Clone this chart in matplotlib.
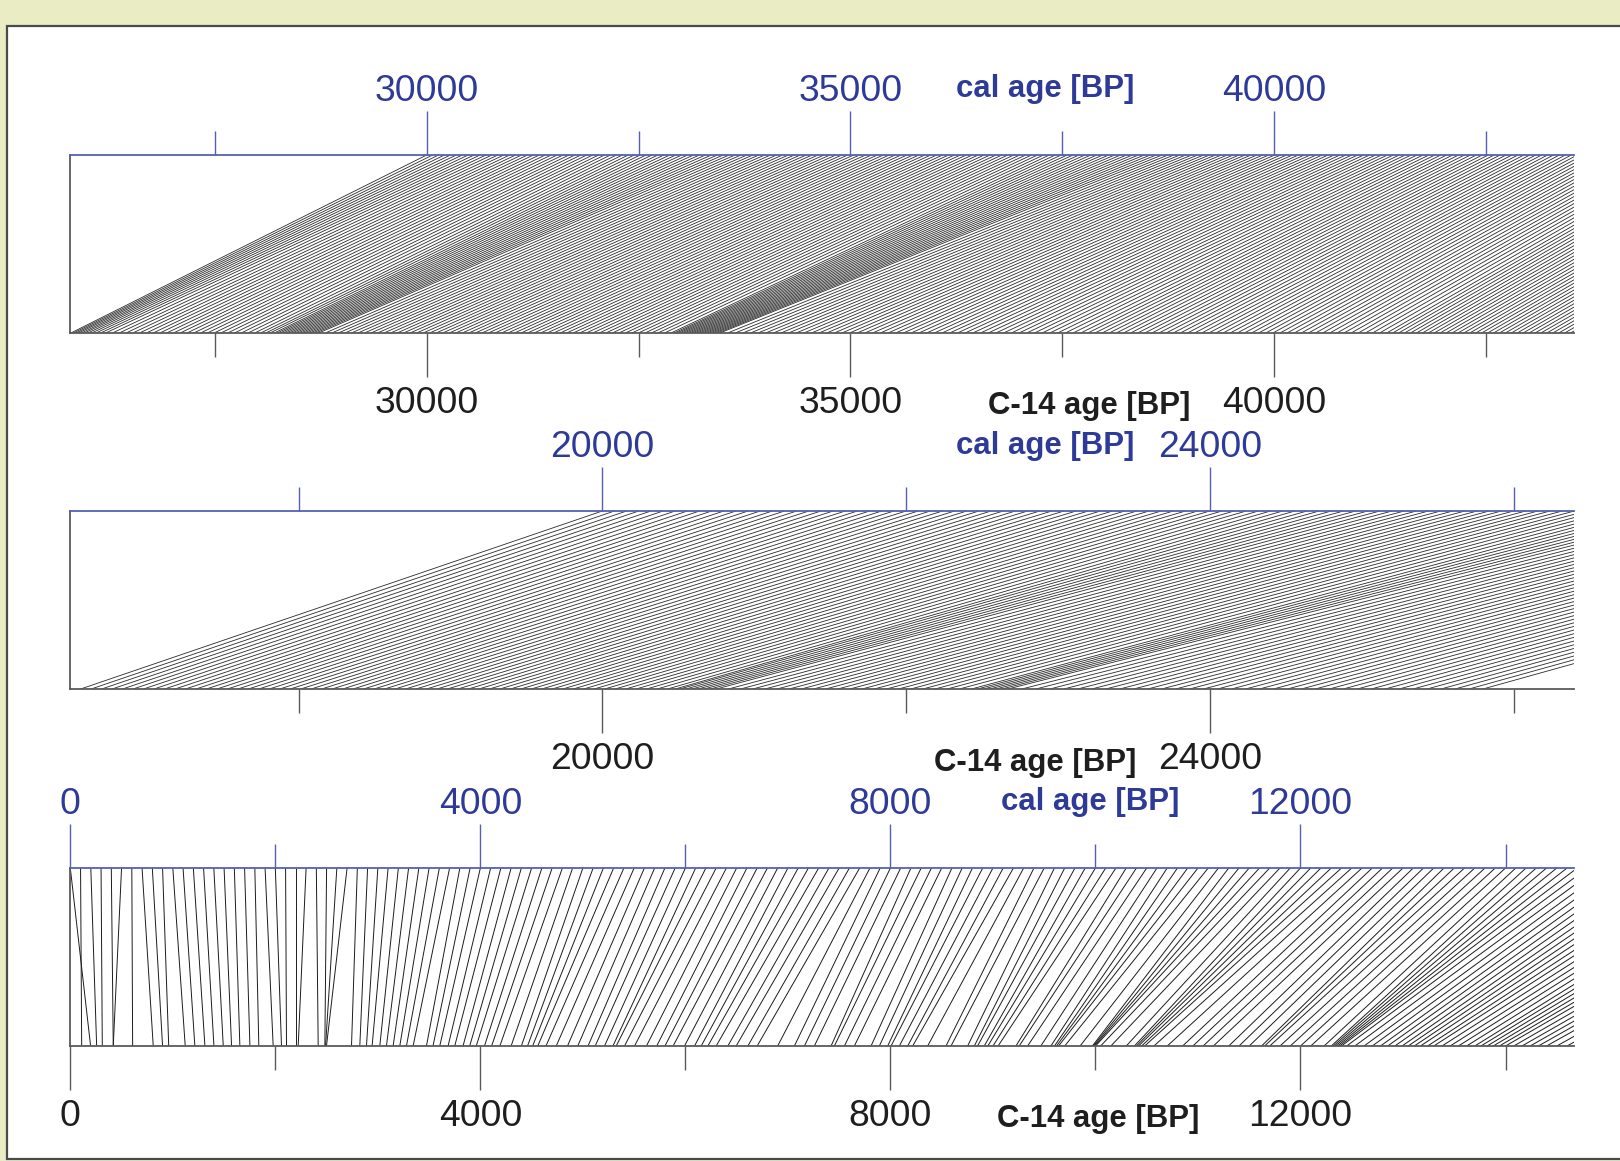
import numpy as np
import matplotlib
matplotlib.use("Agg")
import matplotlib.pyplot as plt
from matplotlib.collections import LineCollection
from matplotlib.patches import Rectangle

# ---------------- data ----------------
# Panel 3 (0 - 14.7 ka): C-14 age for every 100 cal years starting at 0 cal BP
P3_CAL_START, P3_CAL_STEP = 0, 100
P3_C14 = [198, 111, 257, 312, 419, 419, 608, 809, 900, 960,
          1121, 1215, 1313, 1401, 1492, 1573, 1654, 1752, 1839, 1979,
          2060, 2109, 2200, 2223, 2418, 2483, 2490, 2499, 2743, 2824,
          2889, 2944, 3019, 3084, 3149, 3214, 3279, 3344, 3474, 3538,
          3604, 3685, 3750, 3831, 3896, 3960, 4040, 4110, 4190, 4300,
          4400, 4460, 4510, 4560, 4640, 4740, 4850, 4950, 5050, 5120,
          5211, 5293, 5325, 5406, 5504, 5620, 5720, 5800, 5880, 5991,
          6089, 6154, 6219, 6300, 6414, 6495, 6609, 6700, 6900, 7063,
          7161, 7258, 7421, 7453, 7551, 7648, 7811, 7892, 7973, 8006,
          8087, 8168, 8217, 8363, 8542, 8591, 8753, 8818, 8850, 8915,
          8950, 9000, 9050, 9224, 9256, 9338, 9467, 9565, 9600, 9620,
          9640, 9700, 9850, 9970, 9980, 9990, 10000, 10050, 10150, 10300,
          10380, 10400, 10420, 10450, 10480, 10570, 10700, 10850, 10950, 11050,
          11150, 11300, 11400, 11500, 11620, 11650, 11700, 11800, 11900, 12000,
          12100, 12230, 12300, 12320, 12340, 12360, 12380, 12400, 12450, 12530,
          12620, 12700, 12780, 12850, 12920, 12990, 13050, 13110, 13170, 13240,
          13300, 13380, 13460, 13540, 13620, 13700, 13760, 13820, 13880, 13940,
          14000, 14080, 14160, 14240, 14320, 14400, 14500, 14600, 14700]

# Panel 2 (16.5 - 26.4 ka): C-14 age for every 80 cal years, 20000 - 30000 cal BP
P2_CAL_START, P2_CAL_STEP = 20000, 80
P2_C14 = [16565, 16634, 16703, 16772, 16841, 16910, 16979, 17048, 17117, 17186,
          17255, 17324, 17393, 17462, 17531, 17600, 17669, 17738, 17807, 17876,
          17945, 18014, 18083, 18152, 18221, 18290, 18359, 18428, 18497, 18566,
          18635, 18704, 18773, 18842, 18911, 18980, 19049, 19118, 19187, 19256,
          19325, 19394, 19463, 19532, 19601, 19670, 19739, 19808, 19877, 19946,
          20015, 20084, 20153, 20222, 20291, 20360, 20429, 20480, 20510, 20550,
          20590, 20630, 20670, 20710, 20750, 20830, 20910, 20990, 21070, 21150,
          21230, 21310, 21390, 21470, 21550, 21630, 21710, 21790, 21870, 21950,
          22030, 22110, 22190, 22270, 22350, 22430, 22470, 22510, 22550, 22590,
          22630, 22670, 22762, 22854, 22946, 23038, 23130, 23222, 23314, 23406,
          23498, 23590, 23682, 23774, 23866, 23958, 24050, 24142, 24234, 24326,
          24418, 24510, 24602, 24694, 24786, 24878, 24970, 25062, 25154, 25246,
          25338, 25430, 25522, 25614, 25706, 25798]

# Panel 1 (25.8 - 43.5 ka): C-14 age for every 70 cal years starting at 30000 cal BP
P1_CAL_START, P1_CAL_STEP = 30000, 70
P1_C14 = [25800, 25830, 25860, 25890, 25925, 25960, 26000, 26045, 26095, 26150,
          26210, 26290, 26370, 26450, 26530, 26610, 26690, 26770, 26850, 26930,
          27010, 27090, 27170, 27250, 27330, 27410, 27490, 27570, 27650, 27730,
          27810, 27890, 27970, 28040, 28100, 28150, 28200, 28235, 28270, 28305,
          28340, 28375, 28410, 28445, 28480, 28515, 28550, 28585, 28620, 28655,
          28690, 28725, 28802, 28879, 28956, 29033, 29110, 29187, 29264, 29341,
          29418, 29495, 29572, 29649, 29726, 29803, 29880, 29957, 30034, 30111,
          30188, 30265, 30342, 30419, 30496, 30573, 30650, 30727, 30804, 30881,
          30958, 31035, 31112, 31189, 31266, 31343, 31420, 31497, 31574, 31651,
          31728, 31805, 31882, 31959, 32036, 32113, 32190, 32267, 32344, 32421,
          32498, 32575, 32652, 32729, 32806, 32883, 32920, 32950, 32980, 33010,
          33040, 33070, 33100, 33130, 33160, 33190, 33220, 33250, 33280, 33310,
          33340, 33370, 33400, 33430, 33460, 33550, 33640, 33730, 33820, 33910,
          34000, 34090, 34180, 34270, 34360, 34450, 34540, 34630, 34720, 34810,
          34900, 34990, 35080, 35171, 35262, 35353, 35444, 35535, 35626, 35717,
          35808, 35899, 35990, 36081, 36172, 36263, 36354, 36445, 36536, 36627,
          36718, 36809, 36900, 36991, 37082, 37173, 37264, 37355, 37446, 37537,
          37628, 37719, 37803, 37887, 37971, 38055, 38139, 38223, 38307, 38391,
          38475, 38559, 38643, 38727, 38811, 38895, 38979, 39063, 39147, 39231,
          39315, 39399, 39483, 39567, 39651, 39735, 39819, 39903, 39987, 40071,
          40155, 40239, 40323, 40407, 40491, 40575, 40659, 40743, 40827, 40911,
          40995, 41079, 41163, 41247, 41331, 41401, 41471, 41541, 41611, 41681,
          41751, 41821, 41891, 41961, 42031, 42101, 42171, 42241, 42311, 42381,
          42451, 42521, 42591, 42661, 42731, 42801, 42871, 42941, 43011, 43081,
          43151, 43221, 43291, 43361, 43431, 43501, 43571, 43641]

P1_RANGE = (25793, 43537)
P2_RANGE = (16497, 26395)
P3_RANGE = (0, 14664)
P1_MAJOR, P1_MINOR = [30000, 35000, 40000], [27500, 32500, 37500, 42500]
P2_MAJOR, P2_MINOR = [20000, 24000], [18000, 22000, 26000]
P3_MAJOR, P3_MINOR = [0, 4000, 8000, 12000], [2000, 6000, 10000, 14000]
CAL_LABEL = "cal age [BP]"
C14_LABEL = "C-14 age [BP]"

# ---------------- style ----------------
W, H = 1620, 1161
BG = "#EAECC3"
BLUE_LINE = "#5560B4"
BLUE_TEXT = "#2E3A98"
GREY = "#5A5A5A"
FONT = "Liberation Sans"

fig = plt.figure(figsize=(W / 100, H / 100), dpi=100)
fig.patch.set_facecolor(BG)
fig.patches.append(Rectangle((7 / W, 2 / H), 1.2, (1135 - 2) / H,
                             transform=fig.transFigure, facecolor="white",
                             edgecolor="#4a4a4a", lw=1.6, zorder=-10))


def px_rect(top, bottom, left=70.3, right=1573.6):
    return [left / W, 1 - bottom / H, (right - left) / W, (bottom - top) / H]


def panel(top_px, bottom_px, xr, cal_start, cal_step, c14, major, minor,
          cal_lab_xy, c14_lab_xy, lw, lc):
    ax = fig.add_axes(px_rect(top_px, bottom_px))
    ax.set_zorder(5)
    ax.set_facecolor("none")
    ax.set_xlim(*xr)
    ax.set_ylim(0, 1)
    cal = cal_start + cal_step * np.arange(len(c14))
    segs = [[(c, 1.0), (b, 0.0)] for c, b in zip(cal, c14)]
    ax.add_collection(LineCollection(segs, colors=lc, linewidths=lw))
    ax.set_yticks([])
    ax.spines["right"].set_visible(False)
    ax.spines["left"].set_color(GREY)
    ax.spines["left"].set_linewidth(1.3)
    ax.spines["bottom"].set_color(GREY)
    ax.spines["bottom"].set_linewidth(1.3)
    ax.spines["top"].set_color(BLUE_LINE)
    ax.spines["top"].set_linewidth(1.3)
    # bottom axis (C-14)
    ax.set_xticks(major)
    ax.set_xticks(minor, minor=True)
    ax.set_xticklabels([str(v) for v in major], fontfamily=FONT)
    ax.tick_params(axis="x", which="major", direction="out", length=31.5,
                   width=1.0, color=GREY, labelsize=26.8, labelcolor="#1e1e1e",
                   pad=7)
    ax.tick_params(axis="x", which="minor", direction="out", length=17,
                   width=1.0, color=GREY)
    # top axis (cal)
    sec = ax.secondary_xaxis("top")
    sec.set_xticks(major)
    sec.set_xticks(minor, minor=True)
    sec.set_xticklabels([str(v) for v in major], fontfamily=FONT)
    sec.tick_params(axis="x", which="major", direction="out", length=31.5,
                    width=1.0, color=BLUE_LINE, labelsize=26.8,
                    labelcolor=BLUE_TEXT, pad=1.5)
    sec.tick_params(axis="x", which="minor", direction="out", length=17,
                    width=1.0, color=BLUE_LINE)
    sec.spines["top"].set_visible(False)
    fig.text(cal_lab_xy[0] / W, 1 - cal_lab_xy[1] / H, CAL_LABEL,
             color=BLUE_TEXT, fontsize=22.4, fontweight="bold", fontfamily=FONT,
             ha="center", va="center")
    fig.text(c14_lab_xy[0] / W, 1 - c14_lab_xy[1] / H, C14_LABEL,
             color="#1e1e1e", fontsize=22.4, fontweight="bold", fontfamily=FONT,
             ha="center", va="center")
    return ax


panel(155, 333, P1_RANGE, P1_CAL_START, P1_CAL_STEP, P1_C14, P1_MAJOR, P1_MINOR,
      (1045, 89), (1089, 406), 0.6, "#2a2a2a")
panel(511, 689, P2_RANGE, P2_CAL_START, P2_CAL_STEP, P2_C14, P2_MAJOR, P2_MINOR,
      (1045, 446), (1035, 763), 0.6, "#2a2a2a")
panel(868, 1046, P3_RANGE, P3_CAL_START, P3_CAL_STEP, P3_C14, P3_MAJOR, P3_MINOR,
      (1090, 802), (1098, 1119), 0.7, "#1c1c1c")

fig.savefig("out.png", dpi=100, facecolor=BG)
